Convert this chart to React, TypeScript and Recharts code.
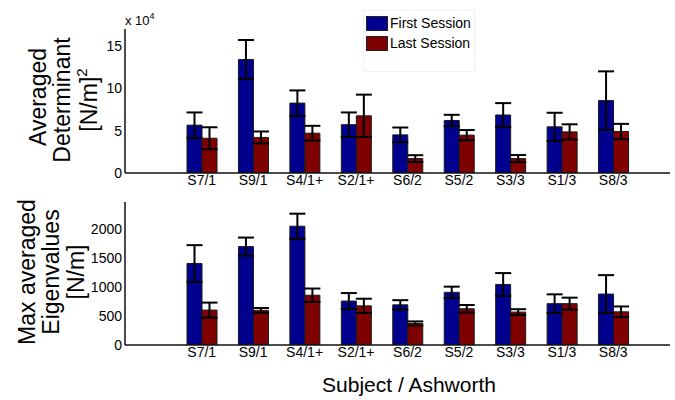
import React from 'react';
import { BarChart, Bar, XAxis, YAxis, ErrorBar, Legend } from 'recharts';

const categories = ['S7/1', 'S9/1', 'S4/1+', 'S2/1+', 'S6/2', 'S5/2', 'S3/3', 'S1/3', 'S8/3'];

// Averaged determinant, in units of 10^4 [N/m]^2
const detFirst = [5.65, 13.4, 8.25, 5.7, 4.5, 6.2, 6.85, 5.45, 8.55];
const detFirstErr = [1.5, 2.3, 1.5, 1.45, 0.87, 0.67, 1.4, 1.66, 3.45];
const detLast = [4.1, 4.2, 4.7, 6.75, 1.7, 4.47, 1.7, 4.85, 4.9];
const detLastErr = [1.3, 0.7, 0.87, 2.5, 0.4, 0.6, 0.42, 0.9, 0.9];

// Max averaged eigenvalues [N/m]
const eigFirst = [1400, 1690, 2040, 755, 690, 905, 1040, 710, 875];
const eigFirstErr = [315, 155, 215, 137, 80, 97, 195, 160, 325];
const eigLast = [600, 595, 855, 672, 370, 622, 565, 710, 570];
const eigLastErr = [128, 40, 115, 123, 35, 65, 50, 103, 92];

const detTicks = [0, 5, 10, 15];
const eigTicks = [0, 500, 1000, 1500, 2000];

const seriesNames = ['First Session', 'Last Session'];

const FONT = '"Liberation Sans", Arial, Helvetica, sans-serif';
const BLUE = '#00008F';
const RED = '#7F0000';
const EDGE = '#1a1a1a';
const AXIS = '#111';

const topData = categories.map((c, i) => ({
  cat: c,
  first: detFirst[i],
  firstErr: detFirstErr[i],
  last: detLast[i],
  lastErr: detLastErr[i],
}));

const bottomData = categories.map((c, i) => ({
  cat: c,
  first: eigFirst[i],
  firstErr: eigFirstErr[i],
  last: eigLast[i],
  lastErr: eigLastErr[i],
}));

const tickStyle = { fontFamily: FONT, fontSize: 14, fill: '#000' };

const renderLegend = (props: any) => {
  const payload = props.payload || [];
  return (
    <div
      style={{
        width: 112,
        height: 62,
        border: '1px solid #f2f2f2',
        background: '#fff',
        boxSizing: 'border-box',
        paddingTop: 2,
        fontFamily: FONT,
        fontSize: 14,
        color: '#000',
      }}
    >
      {payload.map((p: any) => (
        <div key={p.value} style={{ display: 'flex', alignItems: 'center', height: 20, lineHeight: '20px' }}>
          <div
            style={{
              width: 22,
              height: 15,
              marginLeft: 2,
              marginRight: 2,
              background: p.color,
              border: '1px solid #222',
              boxSizing: 'border-box',
            }}
          />
          <span>{p.value}</span>
        </div>
      ))}
    </div>
  );
};

const Panel = ({ data, domain, ticks, height, margin, legend }: any) => (
  <BarChart
    width={675}
    height={height}
    data={data}
    margin={margin}
    barSize={15}
    barGap={0}
  >
    <XAxis
      dataKey="cat"
      type="category"
      padding={{ left: 51, right: 31 }}
      tickLine={false}
      tickSize={0}
      tickMargin={2}
      height={20}
      interval={0}
      tick={tickStyle}
      axisLine={{ stroke: AXIS, strokeWidth: 1.5 }}
    />
    <YAxis
      type="number"
      domain={domain}
      ticks={ticks}
      allowDataOverflow
      width={60}
      tickLine={false}
      tickSize={0}
      tickMargin={3}
      tick={tickStyle}
      axisLine={{ stroke: AXIS, strokeWidth: 1.5 }}
    />
    {legend ? (
      <Legend
        layout="vertical"
        align="center"
        verticalAlign="middle"
        content={renderLegend}
        wrapperStyle={{ left: 363, top: 10, width: 112, height: 62 }}
      />
    ) : null}
    <Bar dataKey="first" name={seriesNames[0]} fill={BLUE} stroke={EDGE} strokeWidth={1} isAnimationActive={false}>
      <ErrorBar dataKey="firstErr" width={8} stroke="#000" strokeWidth={2} isAnimationActive={false} />
    </Bar>
    <Bar dataKey="last" name={seriesNames[1]} fill={RED} stroke={EDGE} strokeWidth={1} isAnimationActive={false}>
      <ErrorBar dataKey="lastErr" width={8} stroke="#000" strokeWidth={2} isAnimationActive={false} />
    </Bar>
  </BarChart>
);

const RotLabel = ({ cx, cy, children }: any) => (
  <text
    x={cx}
    y={cy}
    textAnchor="middle"
    dominantBaseline="central"
    transform={`rotate(-90, ${cx}, ${cy})`}
    fontFamily={FONT}
    fontSize={23}
    fill="#000"
  >
    {children}
  </text>
);

export default function App() {
  return (
    <div style={{ position: 'absolute', left: 0, top: 0, width: 675, height: 400, background: '#fff', overflow: 'hidden' }}>
      <div style={{ position: 'absolute', left: 0, top: 0 }}>
        <Panel
          data={topData}
          domain={[0, 17]}
          ticks={detTicks}
          height={195}
          margin={{ top: 29, right: 5, bottom: 2, left: 65 }}
          legend
        />
      </div>
      <div style={{ position: 'absolute', left: 0, top: 180 }}>
        <Panel
          data={bottomData}
          domain={[0, 2456]}
          ticks={eigTicks}
          height={190}
          margin={{ top: 22, right: 5, bottom: 5, left: 65 }}
        />
      </div>
      <svg
        width={675}
        height={400}
        style={{ position: 'absolute', left: 0, top: 0, pointerEvents: 'none' }}
      >
        <text x={125} y={25} fontFamily={FONT} fontSize={13} fill="#000">
          x 10<tspan fontSize={9} dy={-6}>4</tspan>
        </text>
        <RotLabel cx={38} cy={97}>Averaged</RotLabel>
        <RotLabel cx={62} cy={100}>Determinant</RotLabel>
        <RotLabel cx={89} cy={100}>
          [N/m]<tspan fontSize={15} dy={-8}>2</tspan>
        </RotLabel>
        <RotLabel cx={27} cy={272}>Max averaged</RotLabel>
        <RotLabel cx={51} cy={272}>Eigenvalues</RotLabel>
        <RotLabel cx={76} cy={272}>[N/m]</RotLabel>
        <text x={409} y={392} textAnchor="middle" fontFamily={FONT} fontSize={21} fill="#000">
          Subject / Ashworth
        </text>
      </svg>
    </div>
  );
}
